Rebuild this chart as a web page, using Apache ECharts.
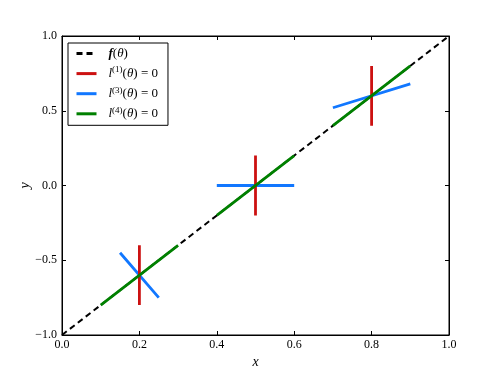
<!DOCTYPE html>
<html>
  <head>
    <meta charset="UTF-8" />
    <title>Constraint lines</title>
    <style>
      html, body { margin: 0; padding: 0; background: #fff; }
      #main { width: 498px; height: 374px; }
    </style>
    <script src="https://cdn.jsdelivr.net/npm/echarts@6/dist/echarts.min.js"></script>
  </head>
  <body>
    <div id="main"></div>
    <script>
      var xTicks = [0.0, 0.2, 0.4, 0.6, 0.8, 1.0];
      var yTicks = [-1.0, -0.5, 0.0, 0.5, 1.0];

      // f(theta): the dashed diagonal
      var fLine = [[0, -1], [1, 1]];
      // l1: vertical red segments
      var l1Data = [[0.2, -0.8], [0.2, -0.4], "-", [0.5, -0.2], [0.5, 0.2], "-", [0.8, 0.4], [0.8, 0.8]];
      // l3: blue segments
      var l3Data = [[0.15, -0.45], [0.25, -0.75], "-", [0.4, 0.0], [0.6, 0.0], "-", [0.7, 0.52], [0.9, 0.68]];
      // l4: green segments along the diagonal
      var l4Data = [[0.1, -0.8], [0.3, -0.4], "-", [0.4, -0.2], [0.6, 0.2], "-", [0.7, 0.4], [0.9, 0.8]];

      var names = ["f(θ)", "l(1)(θ) = 0", "l(3)(θ) = 0", "l(4)(θ) = 0"];
      var legendText = {
        "f(θ)": "{bi|f}({it|θ})",
        "l(1)(θ) = 0": "{it|l}{sup|(1)}({it|θ}) = 0",
        "l(3)(θ) = 0": "{it|l}{sup|(3)}({it|θ}) = 0",
        "l(4)(θ) = 0": "{it|l}{sup|(4)}({it|θ}) = 0"
      };

      var serif = "Liberation Serif";
      function fmt(v) {
        return v.toFixed(1).replace("-", "\u2212");
      }

      var chart = echarts.init(document.getElementById("main"));

      var tickStyle = { show: true, inside: true, length: 4, lineStyle: { color: "#000", width: 1 } };

      var option = {
        animation: false,
        backgroundColor: "#fff",
        grid: { left: 62, right: 49, top: 36, bottom: 38, show: true, borderColor: "#000", borderWidth: 1 },
        xAxis: [
          {
            type: "value", min: 0, max: 1, interval: 0.2,
            name: "x", nameLocation: "middle", nameGap: 20, nameMoveOverlap: false,
            nameTextStyle: { fontFamily: serif, fontStyle: "italic", fontSize: 14, color: "#000" },
            axisLine: { show: true, onZero: false, lineStyle: { color: "#000" } },
            axisTick: tickStyle,
            splitLine: { show: false },
            axisLabel: { margin: 4, color: "#000", fontFamily: serif, fontSize: 12, formatter: fmt }
          },
          {
            type: "value", position: "top", min: 0, max: 1, interval: 0.2,
            axisLine: { show: true, onZero: false, lineStyle: { color: "#000" } },
            axisTick: tickStyle, axisLabel: { show: false }, splitLine: { show: false }
          }
        ],
        yAxis: [
          {
            type: "value", min: -1, max: 1, interval: 0.5,
            name: "y", nameLocation: "middle", nameGap: 30, nameMoveOverlap: false,
            nameTextStyle: { fontFamily: serif, fontStyle: "italic", fontSize: 14, color: "#000" },
            axisLine: { show: true, onZero: false, lineStyle: { color: "#000" } },
            axisTick: tickStyle,
            splitLine: { show: false },
            axisLabel: { margin: 5, color: "#000", fontFamily: serif, fontSize: 12, formatter: fmt }
          },
          {
            type: "value", position: "right", min: -1, max: 1, interval: 0.5,
            axisLine: { show: true, onZero: false, lineStyle: { color: "#000" } },
            axisTick: tickStyle, axisLabel: { show: false }, splitLine: { show: false }
          }
        ],
        legend: {
          orient: "vertical",
          left: 68, top: 43,
          padding: [4, 10, 5, 7],
          itemWidth: 20, itemHeight: 14, itemGap: 5.6,
          borderColor: "#000", borderWidth: 1, borderRadius: 0,
          backgroundColor: "#fff",
          itemStyle: { opacity: 0 },
          lineStyle: { width: 3 },
          data: names,
          formatter: function (n) { return legendText[n]; },
          textStyle: {
            fontFamily: serif, fontSize: 13, color: "#000",
            padding: [0, 0, 0, 7],
            rich: {
              it: { fontFamily: serif, fontStyle: "italic", fontSize: 13 },
              bi: { fontFamily: serif, fontStyle: "italic", fontWeight: "bold", fontSize: 13 },
              sup: { fontFamily: serif, fontSize: 9, padding: [0, 0, 7, 0] }
            }
          }
        },
        series: [
          {
            name: names[0], type: "line", data: fLine, symbol: "none", z: 1,
            lineStyle: { color: "#000", width: 2, type: [6, 4] }, itemStyle: { color: "#000" }
          },
          {
            name: names[1], type: "line", data: l1Data, symbol: "none", z: 3,
            lineStyle: { color: "#cc1111", width: 2.8 }, itemStyle: { color: "#cc1111" }
          },
          {
            name: names[2], type: "line", data: l3Data, symbol: "none", z: 2,
            lineStyle: { color: "#1177ff", width: 2.8 }, itemStyle: { color: "#1177ff" }
          },
          {
            name: names[3], type: "line", data: l4Data, symbol: "none", z: 4,
            lineStyle: { color: "#008000", width: 2.8 }, itemStyle: { color: "#008000" }
          }
        ]
      };

      chart.setOption(option);
    </script>
  </body>
</html>
